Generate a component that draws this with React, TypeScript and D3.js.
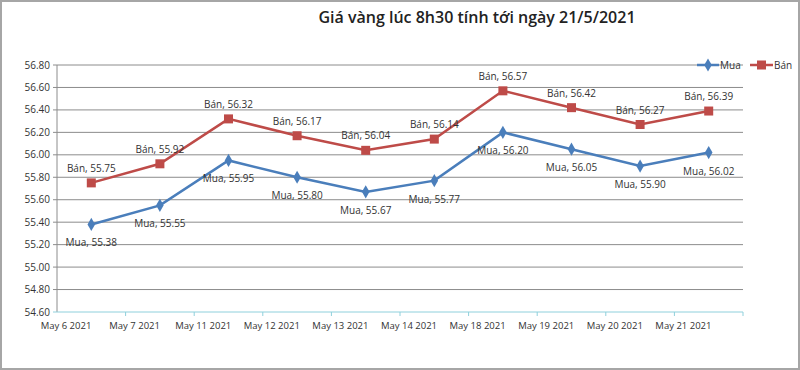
import React, { useEffect, useRef } from "react";
import * as d3 from "d3";

// categories on the x axis
const dates = [
  "May 6 2021",
  "May 7 2021",
  "May 11 2021",
  "May 12 2021",
  "May 13 2021",
  "May 14 2021",
  "May 18 2021",
  "May 19 2021",
  "May 20 2021",
  "May 21 2021"
];

// buy / sell prices
const mua = [55.38, 55.55, 55.95, 55.8, 55.67, 55.77, 56.2, 56.05, 55.9, 56.02];
const ban = [55.75, 55.92, 56.32, 56.17, 56.04, 56.14, 56.57, 56.42, 56.27, 56.39];

const yTicks = [54.6, 54.8, 55.0, 55.2, 55.4, 55.6, 55.8, 56.0, 56.2, 56.4, 56.6, 56.8];

const BLUE = "#4a7ebb";
const RED = "#be4b48";
const FONT = "'Open Sans', 'Noto Sans', sans-serif";

const App = () => {
  const svgRef = useRef<SVGSVGElement>(null);

  useEffect(() => {
    const width = 800;
    const height = 370;
    const margin = { top: 65, right: 57, bottom: 58, left: 57 };

    const svg = d3.select(svgRef.current);
    svg.selectAll("*").remove();

    // outer frame
    svg
      .append("rect")
      .attr("x", 1)
      .attr("y", 1)
      .attr("width", width - 2)
      .attr("height", height - 2)
      .attr("fill", "#fff")
      .attr("stroke", "#a6a6a6")
      .attr("stroke-width", 2);

    // title
    svg
      .append("text")
      .attr("x", 477)
      .attr("y", 23)
      .attr("text-anchor", "middle")
      .attr("font-family", FONT)
      .attr("font-size", 16)
      .attr("font-weight", 600)
      .attr("fill", "#222")
      .text("Giá vàng lúc 8h30 tính tới ngày 21/5/2021");

    const x = d3
      .scaleBand()
      .domain(dates)
      .range([margin.left, width - margin.right]);

    const y = d3
      .scaleLinear()
      .domain([54.6, 56.8])
      .range([height - margin.bottom, margin.top]);

    // horizontal gridlines
    svg
      .append("g")
      .selectAll("line")
      .data(yTicks.slice(1))
      .join("line")
      .attr("x1", margin.left - 4)
      .attr("x2", width - margin.right)
      .attr("y1", d => y(d))
      .attr("y2", d => y(d))
      .attr("stroke", "#8c8c8c")
      .attr("stroke-width", 1);

    // y axis line
    svg
      .append("line")
      .attr("x1", margin.left)
      .attr("x2", margin.left)
      .attr("y1", y(56.8))
      .attr("y2", y(54.6))
      .attr("stroke", "#8c8c8c");

    // y tick labels
    svg
      .append("g")
      .selectAll("text")
      .data(yTicks)
      .join("text")
      .attr("x", margin.left - 7)
      .attr("y", d => y(d))
      .attr("dy", "0.35em")
      .attr("text-anchor", "end")
      .attr("font-family", FONT)
      .attr("font-size", 10)
      .attr("fill", "#333")
      .text(d => d.toFixed(2));

    // x axis (light cyan)
    const axisY = y(54.6);
    svg
      .append("line")
      .attr("x1", margin.left - 4)
      .attr("x2", width - margin.right)
      .attr("y1", axisY)
      .attr("y2", axisY)
      .attr("stroke", "#8fd0dc");
    svg
      .append("g")
      .selectAll("line")
      .data(dates.slice(1).concat(["__end"]))
      .join("line")
      .attr("x1", d => (d === "__end" ? width - margin.right : (x(d) as number)))
      .attr("x2", d => (d === "__end" ? width - margin.right : (x(d) as number)))
      .attr("y1", axisY)
      .attr("y2", axisY + 4)
      .attr("stroke", "#8fd0dc");

    svg
      .append("g")
      .selectAll("text")
      .data(dates)
      .join("text")
      .attr("x", d => (x(d) as number) + 9)
      .attr("y", axisY + 17)
      .attr("text-anchor", "middle")
      .attr("font-family", FONT)
      .attr("font-size", 9.5)
      .attr("fill", "#333")
      .text(d => d);

    const cx = (i: number) => (x(dates[i]) as number) + x.bandwidth() / 2;

    const line = d3
      .line<number>()
      .x((_, i) => cx(i))
      .y(d => y(d));

    // Bán line
    svg
      .append("path")
      .datum(ban)
      .attr("d", line)
      .attr("fill", "none")
      .attr("stroke", RED)
      .attr("stroke-width", 2.5);

    // Mua line
    svg
      .append("path")
      .datum(mua)
      .attr("d", line)
      .attr("fill", "none")
      .attr("stroke", BLUE)
      .attr("stroke-width", 2.5);

    // markers
    svg
      .append("g")
      .selectAll("rect")
      .data(ban)
      .join("rect")
      .attr("x", (_, i) => cx(i) - 4.5)
      .attr("y", d => y(d) - 4.5)
      .attr("width", 9)
      .attr("height", 9)
      .attr("fill", RED);

    const diamond = d3.symbol().type(d3.symbolDiamond).size(50);
    svg
      .append("g")
      .selectAll("path")
      .data(mua)
      .join("path")
      .attr("d", diamond)
      .attr("transform", (d, i) => `translate(${cx(i)},${y(d)})`)
      .attr("fill", BLUE);

    // data labels
    svg
      .append("g")
      .selectAll("text")
      .data(ban)
      .join("text")
      .attr("x", (_, i) => cx(i))
      .attr("y", d => y(d) - 11)
      .attr("text-anchor", "middle")
      .attr("font-family", FONT)
      .attr("font-size", 10)
      .attr("fill", "#333")
      .text(d => `Bán, ${d.toFixed(2)}`);

    svg
      .append("g")
      .selectAll("text")
      .data(mua)
      .join("text")
      .attr("x", (_, i) => cx(i))
      .attr("y", d => y(d) + 22)
      .attr("text-anchor", "middle")
      .attr("font-family", FONT)
      .attr("font-size", 10)
      .attr("fill", "#333")
      .text(d => `Mua, ${d.toFixed(2)}`);

    // legend
    const legend = svg.append("g").attr("transform", `translate(697,${y(56.8)})`);
    legend
      .append("line")
      .attr("x1", 0)
      .attr("x2", 22)
      .attr("stroke", BLUE)
      .attr("stroke-width", 2.5);
    legend
      .append("path")
      .attr("d", diamond)
      .attr("transform", "translate(11,0)")
      .attr("fill", BLUE);
    legend
      .append("text")
      .attr("x", 23)
      .attr("dy", "0.35em")
      .attr("font-family", FONT)
      .attr("font-size", 10)
      .attr("fill", "#333")
      .text("Mua");
    legend
      .append("line")
      .attr("x1", 53)
      .attr("x2", 76)
      .attr("stroke", RED)
      .attr("stroke-width", 2.5);
    legend
      .append("rect")
      .attr("x", 60)
      .attr("y", -4.5)
      .attr("width", 9)
      .attr("height", 9)
      .attr("fill", RED);
    legend
      .append("text")
      .attr("x", 77)
      .attr("dy", "0.35em")
      .attr("font-family", FONT)
      .attr("font-size", 10)
      .attr("fill", "#333")
      .text("Bán");
  }, []);

  return (
    <svg
      ref={svgRef}
      width={800}
      height={370}
      style={{ position: "absolute", left: 0, top: 0 }}
    />
  );
};

export default App;
